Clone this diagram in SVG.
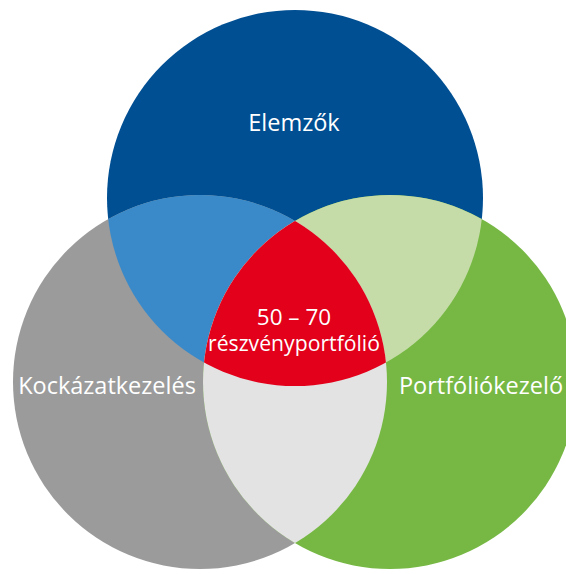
<svg xmlns="http://www.w3.org/2000/svg" width="566" height="574" viewBox="0 0 566 574">
  <style>
    .lbl { font-family: "Open Sans", "DejaVu Sans", sans-serif; fill: #ffffff; text-anchor: middle; }
    .big { font-size: 23.5px; }
  </style>
  <defs>
    <clipPath id="cBlue"><circle cx="295" cy="198" r="188"/></clipPath>
    <clipPath id="cGray"><circle cx="200" cy="382" r="187"/></clipPath>
  </defs>
  <rect width="566" height="574" fill="#ffffff"/>
  <g id="elemzok">
    <circle cx="295" cy="198" r="188" fill="#004F93"/>
  </g>
  <g id="kockazatkezeles">
    <circle cx="200" cy="382" r="187" fill="#9B9B9B"/>
  </g>
  <g id="portfoliokezelo">
    <circle cx="390" cy="382" r="187" fill="#76B843"/>
  </g>
  <g id="blue-gray">
    <circle cx="200" cy="382" r="187" fill="#3A8AC9" clip-path="url(#cBlue)"/>
  </g>
  <g id="blue-green">
    <circle cx="390" cy="382" r="187" fill="#C5DCA9" clip-path="url(#cBlue)"/>
  </g>
  <g id="gray-green">
    <circle cx="390" cy="382" r="187" fill="#E3E3E3" clip-path="url(#cGray)"/>
  </g>
  <g id="center">
    <g clip-path="url(#cBlue)">
      <circle cx="390" cy="382" r="187" fill="#E2001A" clip-path="url(#cGray)"/>
    </g>
  </g>
  <g id="connectors"/>
  <g id="labels">
    <text class="lbl big" x="294" y="131">Elemzők</text>
    <text class="lbl big" x="107" y="394">Kockázatkezelés</text>
    <text class="lbl big" x="481" y="394">Portfóliókezelő</text>
    <text class="lbl" x="294" y="325" style="font-size:22.5px">50 – 70</text>
    <text class="lbl" x="294" y="351" style="font-size:21.2px">részvényportfólió</text>
  </g>
</svg>
